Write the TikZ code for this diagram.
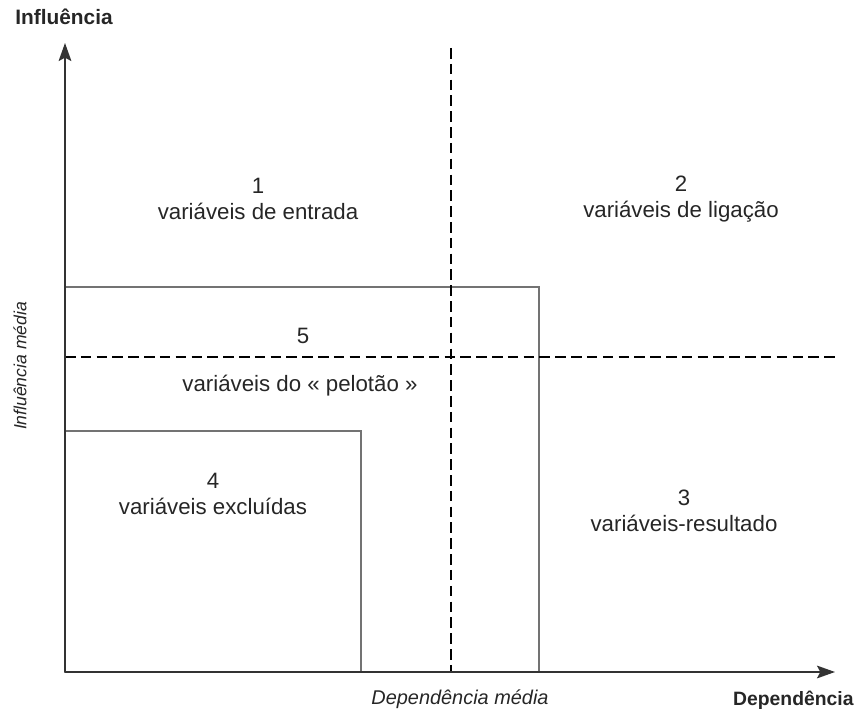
\documentclass[tikz,border=0pt]{standalone}
\usepackage{fontspec}
\setmainfont{Liberation Sans}
\usepackage{tikz}
\usetikzlibrary{arrows.meta}

\tikzset{
  zone/.style={font=\fontsize{19}{22}\selectfont,text=black!85,align=center,inner sep=0pt},
  axislabel/.style={font=\bfseries\fontsize{17.8}{20}\selectfont,text=black!85,inner sep=0pt},
  meanlabel/.style={font=\itshape\fontsize{17}{20}\selectfont,text=black!85,inner sep=0pt},
  meanline/.style={line width=1.6pt,dash pattern=on 9pt off 4.5pt},
  zonebox/.style={draw=black!55,line width=0.9pt},
  axis/.style={line width=1.7pt,black!80,-{Stealth[length=5.4mm,width=3.8mm,inset=1mm]}}
}

\begin{document}
\begin{tikzpicture}[x=0.03cm,y=-0.03cm,draw=black,thick]
\useasboundingbox (0,0) rectangle (856,709);

\coordinate (O) at (65,672);
\coordinate (ytop) at (65,43);
\coordinate (xend) at (835,672);

% boxes of zones 4 and 5
\draw[zonebox] (O) rectangle (539,287);
\draw[zonebox] (O) rectangle (361,431);

% mean lines
\coordinate (vtop) at (451,48);
\coordinate (vbot) at (451,672);
\coordinate (hleft) at (65,357);
\coordinate (hright) at (836,357);
\draw[meanline] (vtop) -- (vbot);
\draw[meanline] (hleft) -- (hright);

% axes
\draw[axis] (O) -- (ytop);
\draw[axis] (O) -- (xend);

\node[axislabel] (infl) at (64,17) {Influência};
\node[axislabel,anchor=east,font=\bfseries\fontsize{16.5}{19}\selectfont] (dep) at (854,700) {Dependência};
\node[meanlabel] (depmed) at (460,699) {Dependência média};
\node[meanlabel,rotate=90,font=\itshape\fontsize{15}{18}\selectfont] (inflmed) at (20,366) {Influência média};

\node[zone] (z1) at (258,199) {1\\variáveis de entrada};
\node[zone] (z2) at (681,199) {2\\variáveis de ligação};
\node[zone] (z3) at (684,511) {3\\variáveis-resultado};
\node[zone] (z4) at (213,494) {4\\variáveis excluídas};
\node[zone] (z5) at (303,336) {5};
\node[zone] (z5txt) at (300,386) {variáveis do « pelotão »};

\end{tikzpicture}
\end{document}
